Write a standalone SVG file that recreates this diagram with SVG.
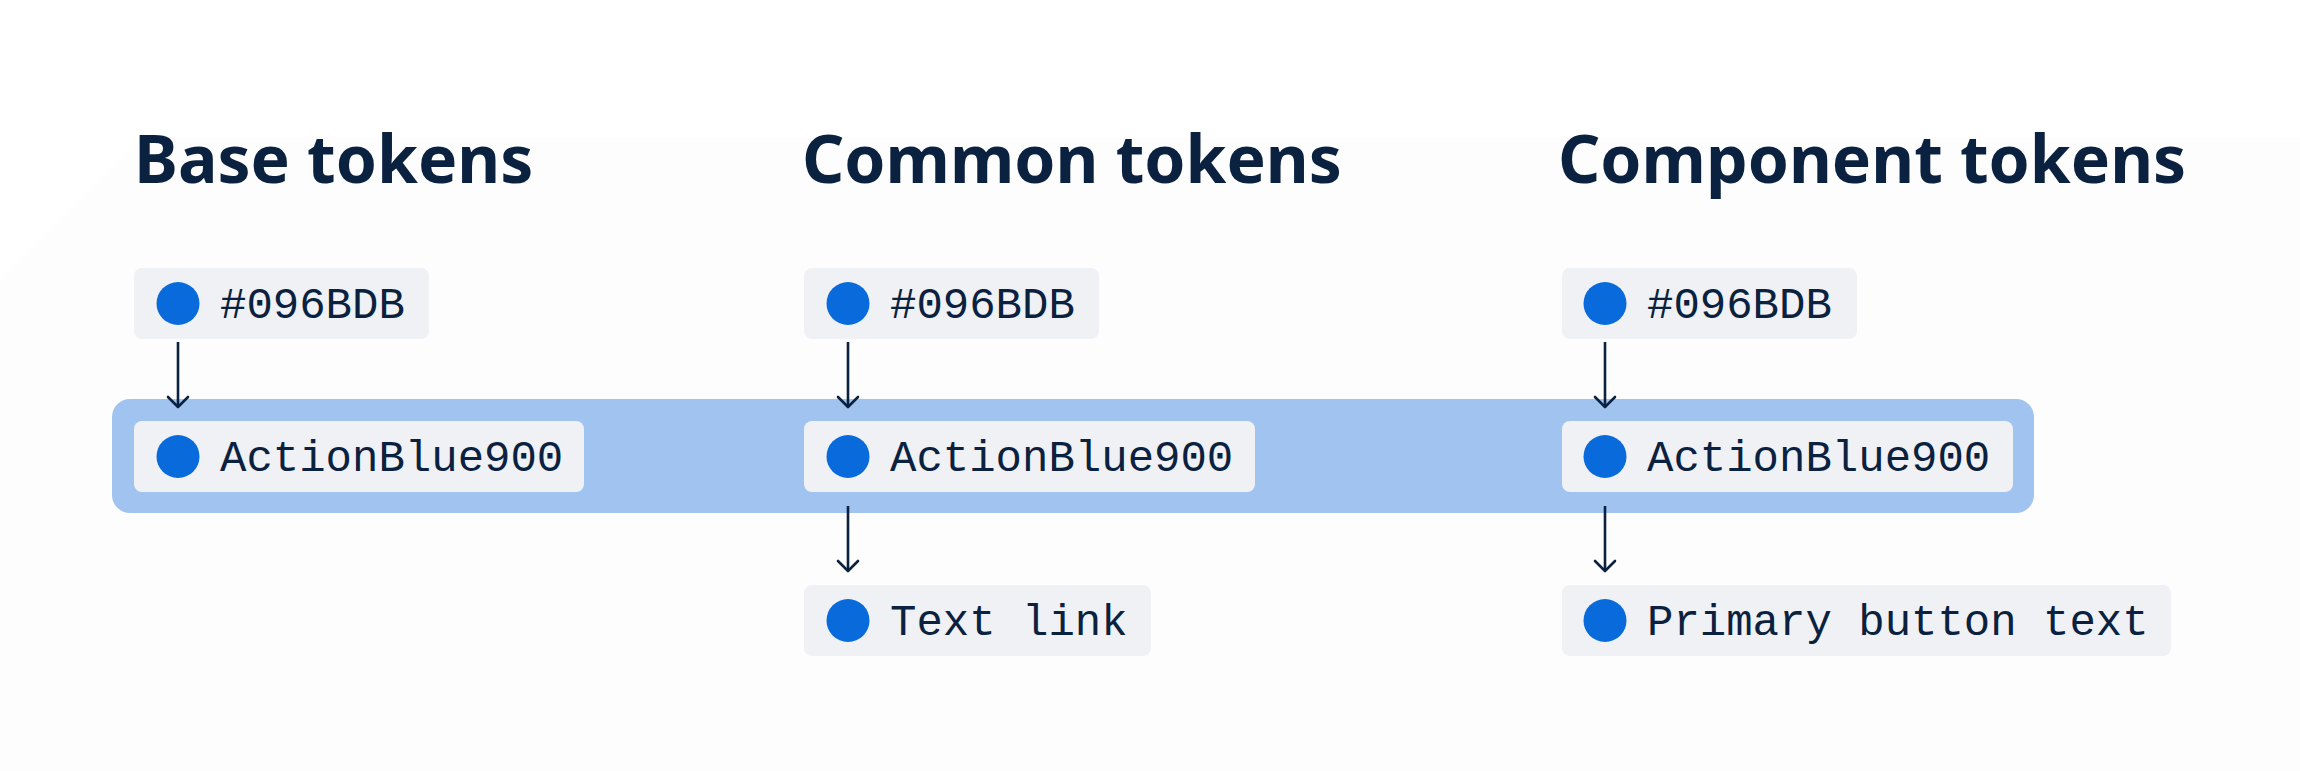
<svg xmlns="http://www.w3.org/2000/svg" width="2300" height="771" viewBox="0 0 2300 771">
<defs>
<style>
.title{font-family:"Noto Sans","Open Sans","Liberation Sans",sans-serif;font-weight:700;font-size:66px;fill:#0b2140}
.box{fill:#eff1f4}
.dot{fill:#096bdb}
.lbl{font-family:"Liberation Mono","Courier New",monospace;font-size:44px;fill:#0b2140}
.conn{stroke:#0b2140;stroke-width:2.6;fill:none}
</style>
<marker id="arr" viewBox="0 0 14 24" refX="12" refY="12" markerWidth="14" markerHeight="24" markerUnits="userSpaceOnUse" orient="auto">
<path d="M2 2 L12 12 L2 22" fill="none" stroke="#0b2140" stroke-width="2.6" stroke-linecap="round" stroke-linejoin="round"/>
</marker>
</defs>
<rect x="0" y="0" width="2300" height="771" fill="#ffffff"/>
<polygon points="0,279 142,137 2300,137 2300,771 0,771" fill="#fdfdfd"/>
<g id="band"><rect x="112" y="399" width="1922" height="114" rx="18" fill="#a0c4ef"/></g>
<g id="titles">
<text class="title" x="134" y="183">Base tokens</text>
<text class="title" x="802" y="183">Common tokens</text>
<text class="title" x="1558" y="183">Component tokens</text>
</g>
<g id="connectors">
<line class="conn" x1="178" y1="342" x2="178" y2="407" marker-end="url(#arr)"/>
<line class="conn" x1="848" y1="342" x2="848" y2="407" marker-end="url(#arr)"/>
<line class="conn" x1="1605" y1="342" x2="1605" y2="407" marker-end="url(#arr)"/>
<line class="conn" x1="848" y1="506" x2="848" y2="571" marker-end="url(#arr)"/>
<line class="conn" x1="1605" y1="506" x2="1605" y2="571" marker-end="url(#arr)"/>
</g>
<g id="base-hex"><rect class="box" x="134" y="268" width="295" height="71" rx="8"/><circle class="dot" cx="178" cy="303.5" r="21.5"/><text class="lbl" x="220" y="318">#096BDB</text></g>
<g id="base-action"><rect class="box" x="134" y="421" width="450" height="71" rx="8"/><circle class="dot" cx="178" cy="456.5" r="21.5"/><text class="lbl" x="220" y="471">ActionBlue900</text></g>
<g id="common-hex"><rect class="box" x="804" y="268" width="295" height="71" rx="8"/><circle class="dot" cx="848" cy="303.5" r="21.5"/><text class="lbl" x="890" y="318">#096BDB</text></g>
<g id="common-action"><rect class="box" x="804" y="421" width="451" height="71" rx="8"/><circle class="dot" cx="848" cy="456.5" r="21.5"/><text class="lbl" x="890" y="471">ActionBlue900</text></g>
<g id="common-textlink"><rect class="box" x="804" y="585" width="347" height="71" rx="8"/><circle class="dot" cx="848" cy="620.5" r="21.5"/><text class="lbl" x="890" y="635">Text link</text></g>
<g id="component-hex"><rect class="box" x="1562" y="268" width="295" height="71" rx="8"/><circle class="dot" cx="1605" cy="303.5" r="21.5"/><text class="lbl" x="1647" y="318">#096BDB</text></g>
<g id="component-action"><rect class="box" x="1562" y="421" width="451" height="71" rx="8"/><circle class="dot" cx="1605" cy="456.5" r="21.5"/><text class="lbl" x="1647" y="471">ActionBlue900</text></g>
<g id="component-primary"><rect class="box" x="1562" y="585" width="609" height="71" rx="8"/><circle class="dot" cx="1605" cy="620.5" r="21.5"/><text class="lbl" x="1647" y="635">Primary button text</text></g>
</svg>
